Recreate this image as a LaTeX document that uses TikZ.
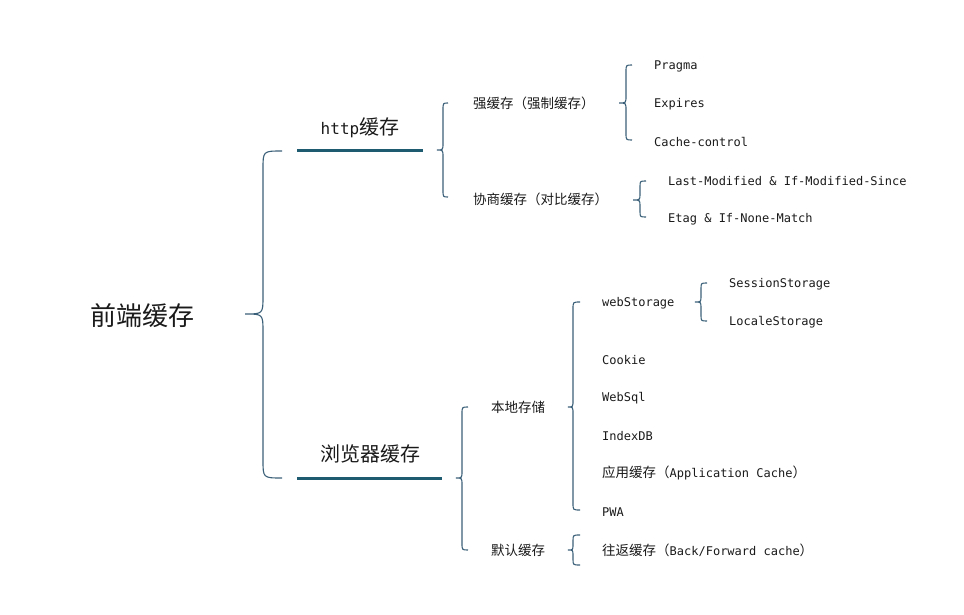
\documentclass[tikz,border=0pt]{standalone}
\usepackage{fontspec}
\setmainfont{DejaVu Sans Mono}
\newfontfamily\cjk{Noto Sans CJK SC}
\newcommand\zh[1]{{\cjk\fontsize{13.5}{15}\selectfont #1}}
\definecolor{bracecol}{HTML}{3A5F78}
\definecolor{barcol}{HTML}{1E5A70}
\definecolor{txt}{HTML}{1A1A1A}
% curly bracket: x of ends, x of spine, x of tip, y top, y tip, y bottom, radius
\newcommand\curly[7]{%
  \draw[bracket] (#1,#4) .. controls (#2,#4) .. (#2,#4+#7) -- (#2,#5-#7)
    .. controls (#2,#5) .. (#3,#5) .. controls (#2,#5) .. (#2,#5+#7)
    -- (#2,#6-#7) .. controls (#2,#6) .. (#1,#6);}
\begin{document}
\begin{tikzpicture}[x=1pt,y=-1pt,
  bracket/.style={draw=bracecol,line width=1.1pt},
  bar/.style={draw=barcol,line width=3pt},
  leaf/.style={anchor=west,inner sep=0pt,text=txt,font=\fontsize{12}{14}\selectfont},
  head/.style={inner sep=0pt,text=txt}]
\useasboundingbox (0,0) rectangle (964,615);

% root
\node[head] (root) at (142,316) {{\cjk\fontsize{26}{28}\selectfont 前端缓存}};
\curly{282}{263}{245}{151}{314}{478}{18}

% first level
\node[head] (http) at (360,128) {\fontsize{16}{18}\selectfont http{\cjk\fontsize{20}{22}\selectfont 缓存}};
\coordinate (httpA) at (297,151);
\coordinate (httpB) at (423,151);
\draw[bar] (httpA) -- (httpB);

\node[head] (browser) at (370,454) {{\cjk\fontsize{20}{22}\selectfont 浏览器缓存}};
\coordinate (brA) at (297,478);
\coordinate (brB) at (442,478);
\draw[bar] (brA) -- (brB);

% http cache
\curly{448}{443}{437}{103}{150}{197}{7}
\node[leaf] (strong) at (473,103) {\zh{强缓存（强制缓存）}};
\node[leaf] (nego) at (473,199) {\zh{协商缓存（对比缓存）}};

\curly{632}{626}{619}{65}{103}{140}{7}
\node[leaf] (pragma) at (654,66) {Pragma};
\node[leaf] (expires) at (654,104) {Expires};
\node[leaf] (cc) at (654,142) {Cache-control};

\curly{646}{640}{633}{181}{200}{217}{6}
\node[leaf] (lm) at (668,181) {Last-Modified \& If-Modified-Since};
\node[leaf] (etag) at (668,219) {Etag \& If-None-Match};

% browser cache
\curly{468}{462}{456}{407}{478}{550}{7}
\node[leaf] (local) at (491,407) {\zh{本地存储}};
\node[leaf] (default) at (491,550) {\zh{默认缓存}};

\curly{580}{573}{568}{302}{407}{510}{7}
\node[leaf] (ws) at (602,303) {webStorage};
\node[leaf] (cookie) at (602,360) {Cookie};
\node[leaf] (sql) at (602,398) {WebSql};
\node[leaf] (idb) at (602,436) {IndexDB};
\node[leaf] (appc) at (602,473) {\zh{应用缓存（}Application Cache\zh{）}};
\node[leaf] (pwa) at (602,512) {PWA};

\curly{707}{701}{695}{283}{302}{321}{6}
\node[leaf] (ss) at (729,284) {SessionStorage};
\node[leaf] (ls) at (729,322) {LocaleStorage};

\curly{580}{573}{568}{535}{550}{565}{6}
\node[leaf] (bf) at (602,550) {\zh{往返缓存（}Back/Forward cache\zh{）}};
\end{tikzpicture}
\end{document}
